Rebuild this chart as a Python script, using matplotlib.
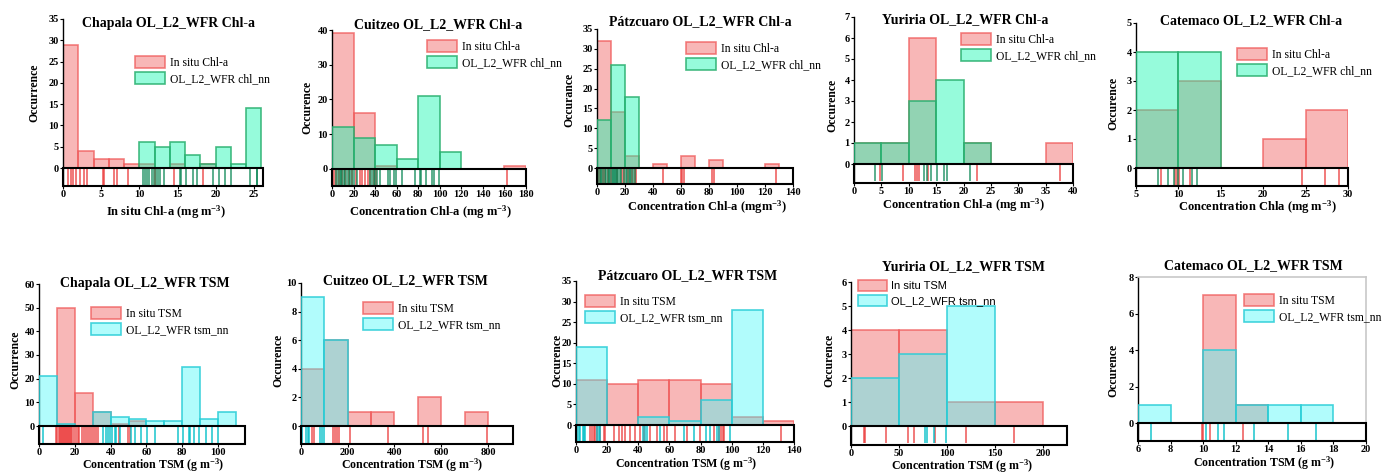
import numpy as np
import matplotlib
matplotlib.use("Agg")
import matplotlib.pyplot as plt
from matplotlib.patches import Rectangle

plt.rcParams['font.family'] = ['Liberation Serif', 'DejaVu Serif']
plt.rcParams['mathtext.fontset'] = 'custom'
plt.rcParams['mathtext.default'] = 'regular'

# ---- data: histogram bin edges / counts and rug values ----
# Chapala Chl-a
chap_chl_edges = np.arange(0, 27, 2)
chap_chl_insitu = [29, 4, 2, 2, 1, 1, 0, 1, 0, 1, 0, 0, 0]
chap_chl_olci = [0, 0, 0, 0, 0, 6, 5, 6, 3, 1, 5, 1, 14]
chap_chl_rug_insitu = [0.05, 0.7, 1.0, 1.35, 1.7, 2.2, 2.8, 3.2, 5.2, 5.4, 6.7, 7.1, 8.5, 12.0, 14.6, 18.3]
chap_chl_rug_olci = [10.5, 10.8, 11.0, 11.3, 11.6, 11.9, 12.2, 12.5, 12.7, 13.2, 15.3, 15.5, 16.1,
                     17.05, 17.6, 19.7, 20.5, 21.2, 22.0, 24.5, 25.35, 25.4]

# Cuitzeo Chl-a
cuit_chl_edges = np.arange(0, 181, 20)
cuit_chl_insitu = [39, 16, 1, 0, 0, 0, 0, 0, 1]
cuit_chl_olci = [12, 9, 7, 3, 21, 5, 0, 0, 0]
cuit_chl_rug_insitu = [1.5, 4.0, 6.2, 9.3, 12.3, 15.4, 18.5, 22.5, 26.2, 27.8, 30.3, 33.0, 35.5, 38.6, 40.8, 162]
cuit_chl_rug_olci = [4.0, 5.2, 7.1, 8.3, 9.6, 10.8, 12.3, 13.9, 15.4, 17.0, 18.5, 20.0, 23.2, 35.5, 37.0,
                     38.6, 40.1, 41.7, 44.8, 52.0, 53.5, 57.8, 59.7, 64.8, 77.2, 81.8, 82.7, 87.1, 92.6, 95.1, 99.4]

# Patzcuaro Chl-a
patz_chl_edges = np.arange(0, 141, 10)
patz_chl_insitu = [32, 14, 3, 0, 1, 0, 3, 0, 2, 0, 0, 0, 1, 0]
patz_chl_olci = [12, 26, 18, 0, 0, 0, 0, 0, 0, 0, 0, 0, 0, 0]
patz_chl_rug_insitu = [0.5, 2.0, 4.0, 6.0, 8.0, 10.0, 14.0, 18.0, 19.0, 22.0, 25.0, 27.0, 28.0,
                       46.9, 60.0, 61.0, 62.4, 82.1, 83.8, 128]
patz_chl_rug_olci = [1.2, 2.5, 3.1, 4.4, 5.8, 6.3, 7.5, 8.9, 9.6, 10.4, 11.2, 12.1, 12.8, 13.7, 14.5,
                     15.3, 16.2, 17.4, 19.6, 20.8, 21.5, 22.7, 23.4, 24.6, 25.9, 26.8]

# Yuriria Chl-a
yuri_chl_edges = np.arange(0, 41, 5)
yuri_chl_insitu = [1, 1, 6, 0, 1, 0, 0, 1]
yuri_chl_olci = [1, 1, 3, 4, 1, 0, 0, 0]
yuri_chl_rug_insitu = [4.7, 8.95, 11.1, 11.5, 11.8, 13.5, 22.5, 37.6]
yuri_chl_rug_olci = [3.9, 5.2, 12.8, 13.4, 14.0, 15.2, 16.4, 16.9, 21.1]

# Catemaco Chl-a
cate_chl_edges = np.arange(5, 31, 5)
cate_chl_insitu = [2, 3, 0, 1, 2]
cate_chl_olci = [4, 4, 0, 0, 0]
cate_chl_rug_insitu = [7.98, 9.62, 9.82, 10.1, 11.4, 24.6, 27.3, 28.9]
cate_chl_rug_olci = [7.55, 8.76, 9.5, 9.94, 10.5, 11.6, 12.2]

# Chapala TSM
chap_tsm_edges = np.arange(0, 111, 10)
chap_tsm_insitu = [0, 50, 14, 6, 1, 2, 0, 0, 0, 0, 0]
chap_tsm_olci = [21, 1, 0, 6, 4, 3, 2, 2, 25, 3, 6]
chap_tsm_rug_insitu = [9.5, 10.2, 11.0, 11.8, 12.3, 12.9, 13.4, 14.0, 14.6, 15.1, 15.7, 16.3, 16.8, 17.4,
                       18.0, 18.6, 19.3, 20.5, 21.7, 22.6, 24.0, 25.1, 26.3, 27.5, 28.2, 29.4, 30.6,
                       31.8, 33.0, 44.5, 49.7, 50.7]
chap_tsm_rug_olci = [2.4, 35.8, 37.6, 38.5, 39.5, 40.8, 42.3, 43.2, 45.1, 51.6, 53.5, 57.2, 60.3, 64.6,
                     77.7, 80.4, 83.6, 84.5, 86.6, 89.4, 93.0, 96.3, 100.0]

# Cuitzeo TSM
cuit_tsm_edges = np.arange(0, 801, 100)
cuit_tsm_insitu = [4, 6, 1, 1, 0, 2, 0, 1]
cuit_tsm_olci = [9, 6, 0, 0, 0, 0, 0, 0]
cuit_tsm_rug_insitu = [47, 54, 137, 147, 154, 161, 211, 371, 522, 542, 796]
cuit_tsm_rug_olci = [4, 23, 28, 33, 83, 90, 97]

# Patzcuaro TSM
patz_tsm_edges = np.arange(0, 141, 20)
patz_tsm_insitu = [11, 10, 11, 11, 10, 2, 1]
patz_tsm_olci = [19, 0, 2, 1, 6, 28, 0]
patz_tsm_rug_insitu = [9.2, 10.3, 11.3, 12.4, 13.5, 15.6, 17.8, 18.8, 24.2, 27.4, 29.5, 31.7, 34.9, 38.1,
                       41.3, 43.5, 47.7, 52.0, 56.3, 58.4, 63.8, 71.3, 79.9, 88.4, 91.6, 93.3, 94.4,
                       95.3, 131.9]
patz_tsm_rug_olci = [0.6, 1.7, 2.8, 4.3, 4.9, 6.0, 13.5, 14.6, 15.6, 43.0, 44.1, 45.6, 54.2, 69.2,
                     75.6, 83.7, 86.3, 90.6, 91.6, 99.1]

# Yuriria TSM
yuri_tsm_edges = np.arange(0, 201, 50)
yuri_tsm_insitu = [4, 4, 1, 1]
yuri_tsm_olci = [2, 3, 5, 0]
yuri_tsm_rug_insitu = [13.2, 14.9, 36.8, 59.4, 66.0, 87.2, 119.8, 169.4]
yuri_tsm_rug_olci = [0.3, 77.4, 79.2, 86.1, 99.3]

# Catemaco TSM
cate_tsm_edges = np.arange(6, 21, 2)
cate_tsm_insitu = [0, 0, 7, 1, 0, 0, 0]
cate_tsm_olci = [1, 0, 4, 1, 1, 1, 0]
cate_tsm_rug_insitu = [9.94, 10.0, 10.41, 12.47]
cate_tsm_rug_olci = [6.82, 10.17, 10.93, 11.3, 13.12, 15.18, 16.94]

# ---- colours ----
RED_FILL = (240/255, 85/255, 85/255, 0.42)
RED_EDGE = (240/255, 90/255, 90/255, 0.75)
RED_RUG = (235/255, 55/255, 55/255, 0.85)
GREEN_FILL = (16/255, 248/255, 175/255, 0.44)
GREEN_EDGE = (40/255, 175/255, 110/255, 0.85)
GREEN_RUG = (10/255, 135/255, 85/255, 0.85)
CYAN_FILL = (70/255, 248/255, 248/255, 0.42)
CYAN_EDGE = (40/255, 205/255, 215/255, 0.85)
CYAN_RUG = (0/255, 190/255, 200/255, 0.9)

W, H = 1400.0, 473.0
fig = plt.figure(figsize=(14, 4.73), dpi=100)


def panel(box, zero_px, xlim, ymax, xticks, yticks, edges, insitu, olci, rug_in, rug_ol,
          kind, title, title_xy, ylabel, ylabel_xy, xlabel, xlabel_xy, leg_xy,
          leg_family=None, frame=False, xlabel_size=9):
    left, right, top, bottom = box
    ax = fig.add_axes([left / W, 1 - bottom / H, (right - left) / W, (bottom - top) / H])
    ymin = -ymax * (bottom - zero_px) / (zero_px - top)

    if kind == "chl":
        fill_b, edge_b, rug_b = GREEN_FILL, GREEN_EDGE, GREEN_RUG
        lab_a, lab_b = "In situ Chl-a", "OL_L2_WFR chl_nn"
    else:
        fill_b, edge_b, rug_b = CYAN_FILL, CYAN_EDGE, CYAN_RUG
        lab_a, lab_b = "In situ TSM", "OL_L2_WFR tsm_nn"

    widths = np.diff(edges)
    ax.bar(edges[:-1], insitu, width=widths, align="edge", color=RED_FILL,
           edgecolor=RED_EDGE, linewidth=1.2, label=lab_a, zorder=2)
    ax.bar(edges[:-1], olci, width=widths, align="edge", color=fill_b,
           edgecolor=edge_b, linewidth=1.2, label=lab_b, zorder=3)

    ax.vlines(rug_in, ymin * 0.92, ymin * 0.06, colors=[RED_RUG], linewidth=1.1, zorder=4)
    ax.vlines(rug_ol, ymin * 0.92, ymin * 0.06, colors=[rug_b], linewidth=1.1, zorder=4)

    ax.set_xlim(*xlim)
    ax.set_ylim(ymin, ymax)
    ax.set_xticks(xticks)
    ax.set_yticks(yticks)
    ax.tick_params(axis="both", labelsize=7.5, length=2, width=0.8, pad=1)
    for lab in ax.get_xticklabels() + ax.get_yticklabels():
        lab.set_fontweight("bold")

    for s in ("top", "right", "bottom"):
        ax.spines[s].set_visible(False)
    ax.spines["left"].set_linewidth(1.0)
    if frame:
        for s in ("top", "right"):
            ax.spines[s].set_visible(True)
            ax.spines[s].set_color("#c8c8c8")
            ax.spines[s].set_linewidth(1.2)

    box_h = -ymin / (ymax - ymin)
    ax.add_patch(Rectangle((0, 0), 1, box_h, transform=ax.transAxes, facecolor="none",
                           edgecolor="black", linewidth=1.5, zorder=5, clip_on=False))

    fig.text(title_xy[0] / W, 1 - title_xy[1] / H, title, ha="center", va="center",
             fontsize=10, fontweight="bold")
    fig.text(ylabel_xy[0] / W, 1 - ylabel_xy[1] / H, ylabel, ha="center", va="center",
             rotation=90, fontsize=8.5, fontweight="bold")
    fig.text(xlabel_xy[0] / W, 1 - xlabel_xy[1] / H, xlabel, ha="center", va="center",
             fontsize=xlabel_size, fontweight="bold")

    leg_kw = {}
    if leg_family:
        leg_kw["prop"] = {"family": leg_family, "size": 8}
    else:
        leg_kw["fontsize"] = 8.4
    ax.legend(loc="upper left", bbox_to_anchor=(leg_xy[0] / W, 1 - leg_xy[1] / H),
              bbox_transform=fig.transFigure, frameon=False, borderpad=0, borderaxespad=0,
              handlelength=2.6, handleheight=1.2, labelspacing=0.3, handletextpad=0.4, **leg_kw)
    return ax


CHL_X = "Concentration Chl-a (mg m$^{-3}$)"
TSM_X = "Concentration TSM (g m$^{-3}$)"

panel((63, 263, 19, 186), 168, (0, 26.2), 35, range(0, 26, 5), range(0, 36, 5),
      chap_chl_edges, chap_chl_insitu, chap_chl_olci, chap_chl_rug_insitu, chap_chl_rug_olci,
      "chl", "Chapala OL_L2_WFR Chl-a", (168, 24), "Occurrence", (34, 93),
      "In situ Chl-a (mg m$^{-3}$)", (166, 212), (135, 56))

panel((332, 526, 30, 186), 169, (0, 180), 40, range(0, 181, 20), range(0, 41, 10),
      cuit_chl_edges, cuit_chl_insitu, cuit_chl_olci, cuit_chl_rug_insitu, cuit_chl_rug_olci,
      "chl", "Cuitzeo OL_L2_WFR Chl-a", (438, 25), "Occurence", (307, 107),
      CHL_X, (430, 212), (427, 40))

panel((597, 793, 29, 184), 168, (0, 140), 35, range(0, 141, 20), range(0, 36, 5),
      patz_chl_edges, patz_chl_insitu, patz_chl_olci, patz_chl_rug_insitu, patz_chl_rug_olci,
      "chl", "Pátzcuaro OL_L2_WFR Chl-a", (700, 22), "Occurance", (569, 100),
      "Concentration Chl-a (mgm$^{-3}$)", (707, 207), (686, 42))

panel((854, 1073, 17, 183), 164, (0, 40), 7, range(0, 41, 5), range(0, 8, 1),
      yuri_chl_edges, yuri_chl_insitu, yuri_chl_olci, yuri_chl_rug_insitu, yuri_chl_rug_olci,
      "chl", "Yuriria OL_L2_WFR Chl-a", (965, 20), "Occurence", (832, 105),
      CHL_X, (963, 205), (961, 33))

panel((1136, 1348, 23, 186), 168, (5, 30), 5, range(5, 31, 5), range(0, 6, 1),
      cate_chl_edges, cate_chl_insitu, cate_chl_olci, cate_chl_rug_insitu, cate_chl_rug_olci,
      "chl", "Catemaco OL_L2_WFR Chl-a", (1251, 21), "Occurence", (1113, 103),
      "Concentration Chla (mg m$^{-3}$)", (1257, 207), (1237, 48))

panel((39, 245, 284, 444), 426, (0, 115), 60, range(0, 101, 20), range(0, 61, 10),
      chap_tsm_edges, chap_tsm_insitu, chap_tsm_olci, chap_tsm_rug_insitu, chap_tsm_rug_olci,
      "tsm", "Chapala OL_L2_WFR TSM", (145, 283), "Occurrence", (15, 360),
      TSM_X, (153, 465), (91, 307), xlabel_size=8.6)

panel((301, 513, 283, 444), 426, (0, 907), 10, range(0, 801, 200), range(0, 11, 2),
      cuit_tsm_edges, cuit_tsm_insitu, cuit_tsm_olci, cuit_tsm_rug_insitu, cuit_tsm_rug_olci,
      "tsm", "Cuitzeo OL_L2_WFR TSM", (405, 281), "Occurence", (278, 360),
      TSM_X, (412, 465), (363, 302), xlabel_size=8.6)

panel((576, 794, 281, 442), 425, (0, 140), 35, range(0, 141, 20), range(0, 36, 5),
      patz_tsm_edges, patz_tsm_insitu, patz_tsm_olci, patz_tsm_rug_insitu, patz_tsm_rug_olci,
      "tsm", "Pátzcuaro OL_L2_WFR TSM", (688, 276), "Occurence", (557, 360),
      TSM_X, (686, 464), (585, 295), xlabel_size=8.6)

panel((851, 1067, 282, 445), 426, (0, 225), 6, range(0, 201, 50), range(0, 7, 1),
      yuri_tsm_edges, yuri_tsm_insitu, yuri_tsm_olci, yuri_tsm_rug_insitu, yuri_tsm_rug_olci,
      "tsm", "Yuriria OL_L2_WFR TSM", (963, 267), "Occurence", (829, 360),
      TSM_X, (962, 466), (858, 280), leg_family="Liberation Sans", xlabel_size=8.6)

panel((1138, 1366, 277, 441), 423, (6, 20), 8, range(6, 21, 2), range(0, 9, 2),
      cate_tsm_edges, cate_tsm_insitu, cate_tsm_olci, cate_tsm_rug_insitu, cate_tsm_rug_olci,
      "tsm", "Catemaco OL_L2_WFR TSM", (1253, 266), "Occurence", (1113, 370),
      TSM_X, (1264, 463), (1244, 294), frame=True, xlabel_size=8.6)

fig.savefig("out.png", dpi=100)
